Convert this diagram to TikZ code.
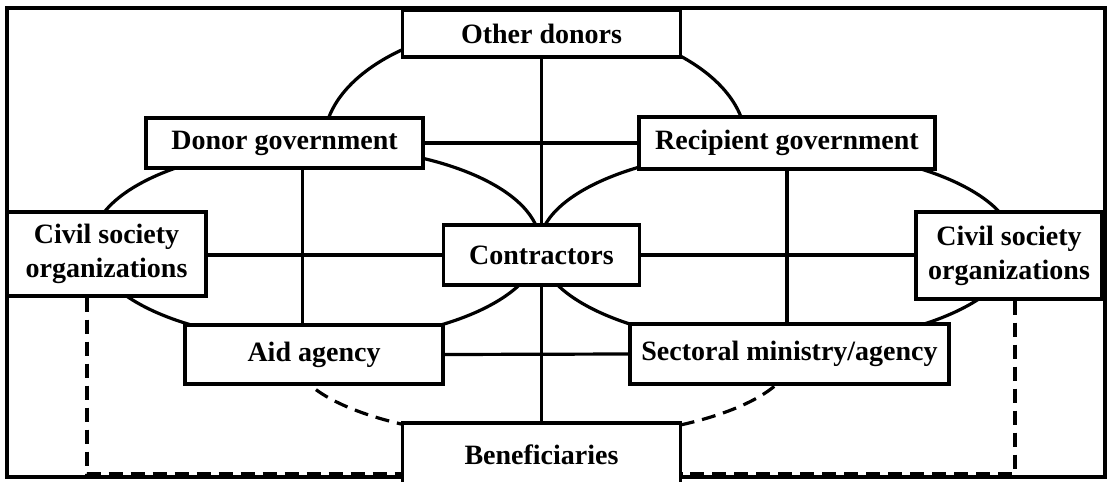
\documentclass[tikz,border=0pt]{standalone}
\usepackage{fontspec}
\setmainfont{Liberation Serif}
\usetikzlibrary{positioning}

\begin{document}
\begin{tikzpicture}[x=0.5pt, y=0.5pt, line width=1.6pt,
  box/.style={draw, fill=white, align=center, inner sep=0pt,
    font=\fontsize{14}{17}\selectfont\bfseries},
  dashline/.style={dash pattern=on 7pt off 4pt}]
  \useasboundingbox (0,0) rectangle (1114,-482);
  % outer frame
  \draw (7,-8) rectangle (1105,-477);
  % the four groups
  \draw (316,-244) ellipse [x radius=224, y radius=97.5];
  \draw (777,-247) ellipse [x radius=238, y radius=98];
  \draw (324,-143) arc [start angle=180, end angle=0, x radius=211, y radius=120];
  \draw[dashline] (293,-354) arc [start angle=180, end angle=360, x radius=250, y radius=85];

  \node[box, minimum width=139pt, minimum height=23.5pt] (othr) at (541.5,-33.5) {Other donors};
  \node[box, minimum width=138.5pt, minimum height=25pt] (dgov) at (284.5,-143) {Donor government};
  \node[box, minimum width=148pt, minimum height=26pt] (rgov) at (787,-143) {Recipient government};
  \node[box, minimum width=99.5pt, minimum height=42pt] (csol) at (106.5,-254) {Civil society\\organizations};
  \node[box, minimum width=98pt, minimum height=30pt] (con) at (541.5,-255) {Contractors};
  \node[box, minimum width=93pt, minimum height=43.5pt] (csor) at (1009,-255.5) {Civil society\\organizations};
  \node[box, minimum width=129pt, minimum height=29.5pt] (aid) at (314,-354.5) {Aid agency};
  \node[box, minimum width=159.5pt, minimum height=30pt] (sect) at (789.5,-354) {Sectoral ministry/agency};
  \node[box, minimum width=139pt, minimum height=32pt] (ben) at (541.5,-455) {Beneficiaries};

  \draw (othr.south) -- (con.north);
  \draw (con.south) -- (ben.north);
  \draw (dgov.east) -- (rgov.west);
  \draw (csol.east |- con.west) -- (con.west);
  \draw (con.east) -- (csor.west |- con.east);
  \draw (aid.east) -- (sect.west);
  \draw ([xshift=9pt]dgov.south) -- ([xshift=9pt]dgov.south |- aid.north);
  \draw (rgov.south) -- (rgov.south |- sect.north);

  % dashed ties to the beneficiaries
  \coordinate (dl) at (87,-474);
  \coordinate (dr) at (1015,-474);
  \draw[dashline] (csol.south -| dl) |- (ben.west |- dl);
  \draw[dashline] (csor.south -| dr) |- (ben.east |- dr);
\end{tikzpicture}
\end{document}
